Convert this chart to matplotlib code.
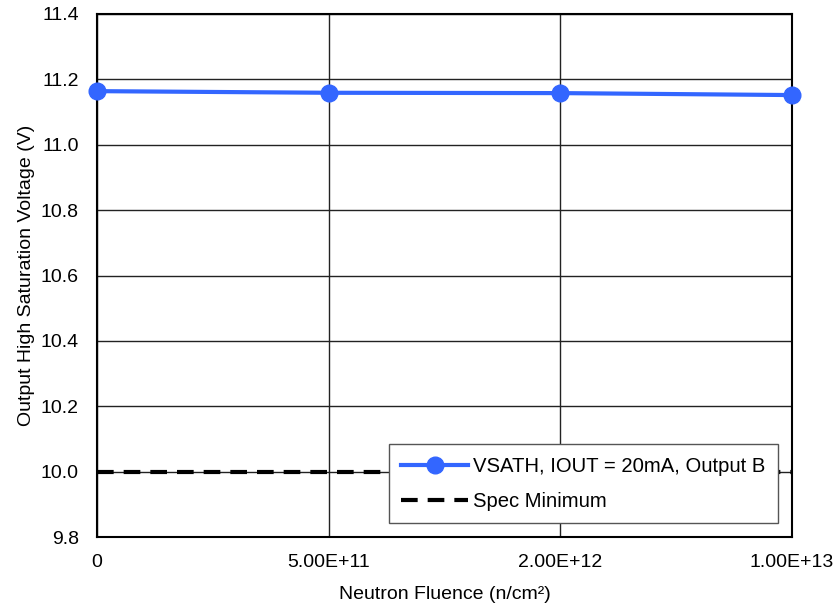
import matplotlib
matplotlib.use("Agg")
import matplotlib.pyplot as plt

plt.rcParams['font.family'] = ['Liberation Sans', 'DejaVu Sans']

categories = ["0", "5.00E+11", "2.00E+12", "1.00E+13"]
vsath = [11.164, 11.159, 11.158, 11.152]
spec_min = [10.0, 10.0, 10.0, 10.0]
yticks = [9.8, 10.0, 10.2, 10.4, 10.6, 10.8, 11.0, 11.2, 11.4]

fig = plt.figure(figsize=(8.38, 6.08), dpi=100)
ax = fig.add_axes([97/838, 1-537/608, (792-97)/838, (537-14)/608])

x = list(range(len(categories)))
ax.plot(x, vsath, color='#3366FF', lw=3, marker='o', ms=12, label='VSATH, IOUT = 20mA, Output B',
        zorder=4, clip_on=False)
ax.plot(x, spec_min, color='black', lw=3, ls=(0, (4, 2.4)), label='Spec Minimum', zorder=3)

ax.set_xlim(0, 3)
ax.set_ylim(9.8, 11.4)
ax.set_xticks(x)
ax.set_xticklabels(categories)
ax.set_yticks(yticks)
ax.set_yticklabels([f"{v:.1f}" for v in yticks])
ax.tick_params(length=0, labelsize=14)
ax.tick_params(axis='y', pad=13)
ax.tick_params(axis='x', pad=12)
ax.grid(True, color='#222222', lw=1.0)
for s in ax.spines.values():
    s.set_linewidth(1.5)
ax.set_xlabel('Neutron Fluence (n/cm²)', fontsize=14, labelpad=11)
ax.set_ylabel('Output High Saturation Voltage (V)', fontsize=14, labelpad=4)

leg = ax.legend(loc='lower right', bbox_to_anchor=(681/695, 14/523), fontsize=14.6,
                frameon=True, fancybox=False, edgecolor='#555555', framealpha=1,
                handlelength=3.3, handletextpad=0.25, borderpad=0.6, labelspacing=0.8,
                borderaxespad=0)
leg.get_frame().set_linewidth(1.0)

fig.savefig('out.png', dpi=100)
